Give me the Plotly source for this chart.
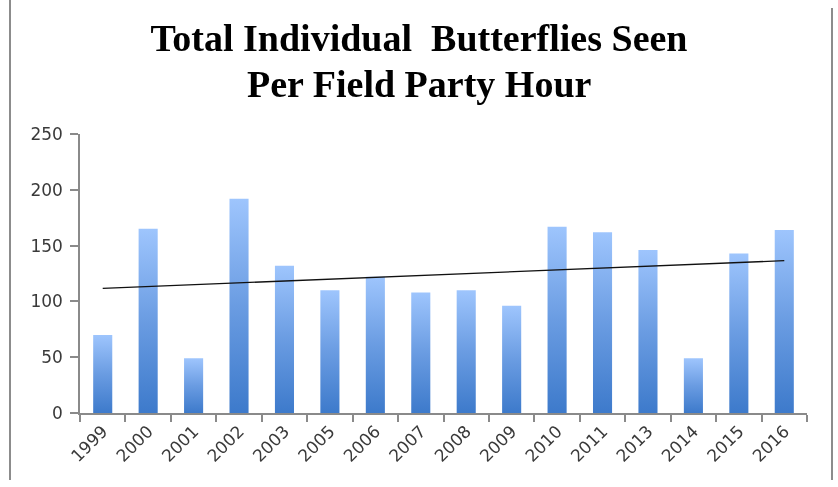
import numpy as np
import plotly.graph_objects as go

years = ["1999", "2000", "2001", "2002", "2003", "2005", "2006", "2007",
         "2008", "2009", "2010", "2011", "2013", "2014", "2015", "2016"]
values = [70, 165, 49, 192, 132, 110, 122, 108, 110, 96, 167, 162, 146, 49, 143, 164]
y_ticks = [0, 50, 100, 150, 200, 250]
title_line1 = "Total Individual  Butterflies Seen"
title_line2 = "Per Field Party Hour"

idx = np.arange(len(years))
half_w = 0.21

fig = go.Figure()
for i, v in zip(idx, values):
    fig.add_trace(go.Scatter(
        x=[i - half_w, i - half_w, i + half_w, i + half_w, i - half_w],
        y=[0, v, v, 0, 0],
        mode="lines", line=dict(width=0), fill="toself",
        fillgradient=dict(type="vertical", start=0, stop=v,
                          colorscale=[[0, "#3D7ACB"], [0.5, "#6A9CE2"], [1, "#9EC5FD"]]),
        hoverinfo="skip", showlegend=False, xaxis="x", yaxis="y"))

slope, intercept = np.polyfit(idx, values, 1)
fig.add_trace(go.Scatter(
    x=[idx[0], idx[-1]], y=[intercept + slope * idx[0], intercept + slope * idx[-1]],
    mode="lines", line=dict(color="#111111", width=1.3),
    hoverinfo="skip", showlegend=False, xaxis="x", yaxis="y"))

# invisible trace to activate label axis
fig.add_trace(go.Scatter(x=list(idx), y=values, mode="markers", opacity=0,
                         hoverinfo="skip", showlegend=False, xaxis="x2", yaxis="y"))

axis_color = "#8A8A8A"
tick_font = dict(family="DejaVu Sans", size=17, color="#3A3A3A")
title_font = dict(family="Liberation Serif", size=38, color="#000000", weight="bold")
fig.update_layout(
    width=838, height=487,
    margin=dict(l=80, r=31, t=134, b=74),
    paper_bgcolor="white", plot_bgcolor="white",
    title=dict(text=title_line1, x=0.5, xanchor="center", xref="container",
               y=1 - 38 / 487, yanchor="middle", yref="container", font=title_font),
    xaxis=dict(range=[-0.5, len(years) - 0.5], tickmode="array",
               tickvals=[i - 0.5 for i in range(len(years) + 1)],
               showticklabels=False, ticks="outside", ticklen=7, tickcolor=axis_color,
               tickwidth=1.5, showline=True, linecolor=axis_color, linewidth=1.5,
               showgrid=False, zeroline=False, fixedrange=True),
    xaxis2=dict(range=[-0.5, len(years) - 0.5], overlaying="x", side="bottom", anchor="y",
                tickmode="array", tickvals=list(idx), ticktext=years, ticks="",
                tickangle=-45, tickfont=tick_font, ticklabelstandoff=4,
                showline=False, showgrid=False, zeroline=False, fixedrange=True),
    yaxis=dict(range=[0, 250], tickmode="array", tickvals=y_ticks,
               ticks="outside", ticklen=8, tickcolor=axis_color, tickwidth=1.5,
               showline=True, linecolor=axis_color, linewidth=1.5, ticklabelstandoff=4,
               showgrid=False, zeroline=False, tickfont=tick_font, fixedrange=True),
    annotations=[dict(text=title_line2, xref="paper", yref="paper",
                      x=(419 - 80) / 727, y=(413 - 84) / 279,
                      xanchor="center", yanchor="middle", showarrow=False,
                      font=title_font)],
    shapes=[
        dict(type="line", xref="paper", yref="paper", x0=(10 - 80) / 727, x1=(10 - 80) / 727,
             y0=(413 - 0) / 279, y1=(413 - 480) / 279, line=dict(color="#8C8C8C", width=2)),
        dict(type="line", xref="paper", yref="paper", x0=(832 - 80) / 727, x1=(832 - 80) / 727,
             y0=(413 - 8) / 279, y1=(413 - 480) / 279, line=dict(color="#8C8C8C", width=2)),
    ],
)

fig.write_html("out.html")
